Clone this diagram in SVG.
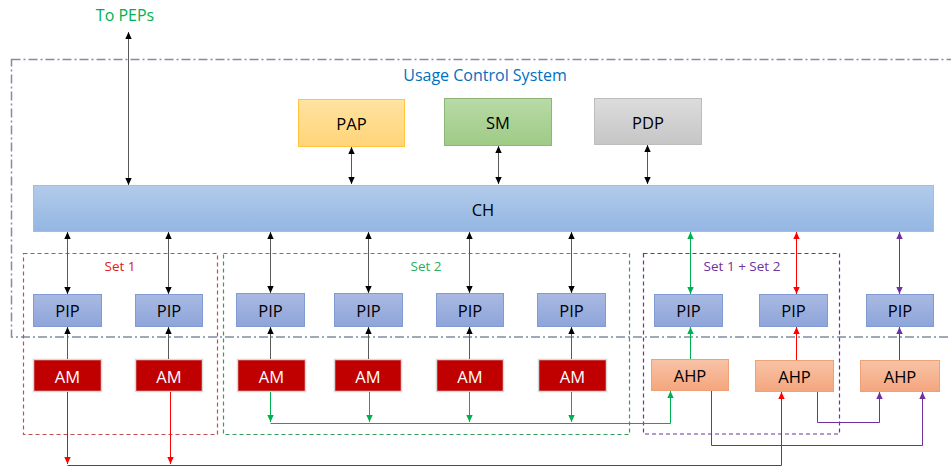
<svg xmlns="http://www.w3.org/2000/svg" width="951" height="468" viewBox="0 0 951 468">
<style>
text{font-family:"Open Sans","Liberation Sans",sans-serif;text-anchor:middle;dominant-baseline:central}
.lbl{font-size:16.5px;fill:#000}
.set{font-size:13.5px}
.pip{fill:url(#gPip);stroke:#7F9BD1;stroke-width:1}
.am{fill:#C00000;stroke:#D9D9D9;stroke-width:1.5}
.ahp{fill:url(#gAhp);stroke:#F0A077;stroke-width:1}
.k{stroke:#595959;stroke-width:1;fill:none}
.r{stroke:#FF0000;stroke-width:1;fill:none}
.g{stroke:#00B050;stroke-width:1;fill:none}
.p{stroke:#7030A0;stroke-width:1;fill:none}
</style>
<defs>
<linearGradient id="gPip" x1="0" y1="0" x2="0" y2="1"><stop offset="0" stop-color="#A9B9E2"/><stop offset="1" stop-color="#8EA5DA"/></linearGradient>
<linearGradient id="gCh" x1="0" y1="0" x2="0" y2="1"><stop offset="0" stop-color="#B2CBEB"/><stop offset="1" stop-color="#93B6E2"/></linearGradient>
<linearGradient id="gPap" x1="0" y1="0" x2="0" y2="1"><stop offset="0" stop-color="#FFE3A0"/><stop offset="1" stop-color="#FFD479"/></linearGradient>
<linearGradient id="gSm" x1="0" y1="0" x2="0" y2="1"><stop offset="0" stop-color="#B8DAA7"/><stop offset="1" stop-color="#9ECB85"/></linearGradient>
<linearGradient id="gPdp" x1="0" y1="0" x2="0" y2="1"><stop offset="0" stop-color="#DCDCDC"/><stop offset="1" stop-color="#C6C6C6"/></linearGradient>
<linearGradient id="gAhp" x1="0" y1="0" x2="0" y2="1"><stop offset="0" stop-color="#F8C3A6"/><stop offset="1" stop-color="#F4A67E"/></linearGradient>
<marker id="ak" markerWidth="8" markerHeight="8" refX="7" refY="4" orient="auto-start-reverse" markerUnits="userSpaceOnUse"><path d="M0,0.8 L7,4 L0,7.2 Z" fill="#000"/></marker>
<marker id="ar" markerWidth="8" markerHeight="8" refX="7" refY="4" orient="auto-start-reverse" markerUnits="userSpaceOnUse"><path d="M0,0.8 L7,4 L0,7.2 Z" fill="#FF0000"/></marker>
<marker id="ag" markerWidth="8" markerHeight="8" refX="7" refY="4" orient="auto-start-reverse" markerUnits="userSpaceOnUse"><path d="M0,0.8 L7,4 L0,7.2 Z" fill="#00B050"/></marker>
<marker id="ap" markerWidth="8" markerHeight="8" refX="7" refY="4" orient="auto-start-reverse" markerUnits="userSpaceOnUse"><path d="M0,0.8 L7,4 L0,7.2 Z" fill="#7030A0"/></marker>
</defs>
<rect width="951" height="468" fill="#fff"/>

<g id="system">
<rect x="11.5" y="59.5" width="950" height="277.5" fill="none" stroke="#7F8FA3" stroke-width="1.5" stroke-dasharray="9,3,2,3"/>
<text x="485" y="75" style="font-size:16px;fill:#0070C0">Usage Control System</text>
</g>
<text x="125" y="15" style="font-size:16px;fill:#00B050">To PEPs</text>

<g id="set1"><rect x="23.5" y="253.5" width="194" height="181" fill="none" stroke="#C0504D" stroke-width="1.2" stroke-dasharray="4,3"/><text class="set" x="120" y="266" style="fill:#E02020">Set 1</text></g>
<g id="set2"><rect x="223.5" y="253.5" width="406" height="181" fill="none" stroke="#3A9A5B" stroke-width="1.2" stroke-dasharray="4,3"/><text class="set" x="426" y="266" style="fill:#27AE60">Set 2</text></g>
<g id="set12"><rect x="643.5" y="253.5" width="196" height="180.5" fill="none" stroke="#7030A0" stroke-width="1.2" stroke-dasharray="4,3"/><text class="set" x="742" y="266" style="fill:#7030A0">Set 1 + Set 2</text></g>

<g id="PAP"><rect x="298.5" y="99.5" width="106" height="47" fill="url(#gPap)" stroke="#FFC440"/><text class="lbl" x="351.5" y="123">PAP</text></g>
<g id="SM"><rect x="444.5" y="98.5" width="107" height="47" fill="url(#gSm)" stroke="#8DB776"/><text class="lbl" x="498" y="122">SM</text></g>
<g id="PDP"><rect x="594.5" y="98.5" width="107" height="46" fill="url(#gPdp)" stroke="#BDBDBD"/><text class="lbl" x="648" y="122">PDP</text></g>
<g id="CH"><rect x="33.5" y="185.5" width="900" height="46" fill="url(#gCh)" stroke="#A3BDDF"/><text class="lbl" x="483" y="209">CH</text></g>

<g id="PIP1"><rect class="pip" x="33.5" y="294.5" width="68" height="32"/><text class="lbl" x="67.5" y="310">PIP</text></g>
<g id="PIP2"><rect class="pip" x="135.5" y="294.5" width="67" height="32"/><text class="lbl" x="169" y="310">PIP</text></g>
<g id="PIP3"><rect class="pip" x="236.5" y="293.5" width="68" height="33"/><text class="lbl" x="270.5" y="310">PIP</text></g>
<g id="PIP4"><rect class="pip" x="334.5" y="293.5" width="68" height="33"/><text class="lbl" x="368.5" y="310">PIP</text></g>
<g id="PIP5"><rect class="pip" x="436.5" y="293.5" width="67" height="33"/><text class="lbl" x="470" y="310">PIP</text></g>
<g id="PIP6"><rect class="pip" x="537.5" y="293.5" width="68" height="33"/><text class="lbl" x="571.5" y="310">PIP</text></g>
<g id="PIP7"><rect class="pip" x="654.5" y="294.5" width="68" height="32"/><text class="lbl" x="688.5" y="310">PIP</text></g>
<g id="PIP8"><rect class="pip" x="759.5" y="294.5" width="68" height="32"/><text class="lbl" x="793.5" y="310">PIP</text></g>
<g id="PIP9"><rect class="pip" x="866.5" y="294.5" width="67" height="32"/><text class="lbl" x="900" y="310">PIP</text></g>

<g id="AM1"><rect class="am" x="33.5" y="359.5" width="68" height="32"/><text class="lbl" x="67.5" y="376" style="fill:#fff">AM</text></g>
<g id="AM2"><rect class="am" x="135.5" y="359.5" width="67" height="32"/><text class="lbl" x="169" y="376" style="fill:#fff">AM</text></g>
<g id="AM3"><rect class="am" x="237.5" y="359.5" width="68" height="32"/><text class="lbl" x="271.5" y="376" style="fill:#fff">AM</text></g>
<g id="AM4"><rect class="am" x="334.5" y="359.5" width="67" height="32"/><text class="lbl" x="368" y="376" style="fill:#fff">AM</text></g>
<g id="AM5"><rect class="am" x="436.5" y="359.5" width="67" height="32"/><text class="lbl" x="470" y="376" style="fill:#fff">AM</text></g>
<g id="AM6"><rect class="am" x="538.5" y="359.5" width="68" height="32"/><text class="lbl" x="572.5" y="376" style="fill:#fff">AM</text></g>

<g id="AHP1"><rect class="ahp" x="651.5" y="359.5" width="77" height="31"/><text class="lbl" x="690" y="375">AHP</text></g>
<g id="AHP2"><rect class="ahp" x="755.5" y="360.5" width="78" height="31"/><text class="lbl" x="794.5" y="376">AHP</text></g>
<g id="AHP3"><rect class="ahp" x="860.5" y="360.5" width="79" height="31"/><text class="lbl" x="900" y="376">AHP</text></g>

<g id="connectors">
<path class="k" d="M128.5,185 V32" marker-start="url(#ak)" marker-end="url(#ak)"/>
<path class="k" d="M351.5,147 V184" marker-start="url(#ak)" marker-end="url(#ak)"/>
<path class="k" d="M498.5,146 V184" marker-start="url(#ak)" marker-end="url(#ak)"/>
<path class="k" d="M647.5,145 V184" marker-start="url(#ak)" marker-end="url(#ak)"/>
<path class="k" d="M67.5,232 V294" marker-start="url(#ak)" marker-end="url(#ak)"/>
<path class="k" d="M168.5,232 V294" marker-start="url(#ak)" marker-end="url(#ak)"/>
<path class="k" d="M270.5,232 V293" marker-start="url(#ak)" marker-end="url(#ak)"/>
<path class="k" d="M368.5,232 V293" marker-start="url(#ak)" marker-end="url(#ak)"/>
<path class="k" d="M469.5,232 V293" marker-start="url(#ak)" marker-end="url(#ak)"/>
<path class="k" d="M571.5,232 V293" marker-start="url(#ak)" marker-end="url(#ak)"/>
<path class="g" d="M690.5,232 V294" marker-start="url(#ag)" marker-end="url(#ag)"/>
<path class="r" d="M796.5,232 V294" marker-start="url(#ar)" marker-end="url(#ar)"/>
<path class="p" d="M899.5,232 V294" marker-start="url(#ap)" marker-end="url(#ap)"/>

<path class="k" d="M67.5,359 V327" marker-end="url(#ak)"/>
<path class="k" d="M168.5,359 V327" marker-end="url(#ak)"/>
<path class="k" d="M270.5,359 V327" marker-end="url(#ak)"/>
<path class="k" d="M368.5,359 V327" marker-end="url(#ak)"/>
<path class="k" d="M469.5,359 V327" marker-end="url(#ak)"/>
<path class="k" d="M571.5,359 V327" marker-end="url(#ak)"/>
<path class="g" d="M690.5,359 V327" marker-end="url(#ag)"/>
<path class="r" d="M796.5,360 V327" marker-end="url(#ar)"/>
<path class="p" d="M899.5,360 V327" marker-end="url(#ap)"/>

<path class="r" d="M67.5,392 V464" marker-end="url(#ar)"/>
<path class="r" d="M170.5,392 V464" marker-end="url(#ar)"/>
<path class="r" d="M67.5,465.5 H781.5 V392" marker-end="url(#ar)"/>

<path class="g" d="M270.5,392 V422" marker-end="url(#ag)"/>
<path class="g" d="M369.5,392 V422" marker-end="url(#ag)"/>
<path class="g" d="M469.5,392 V422" marker-end="url(#ag)"/>
<path class="g" d="M571.5,392 V422" marker-end="url(#ag)"/>
<path class="g" d="M270.5,423.5 H670.5 V391" marker-end="url(#ag)"/>

<path class="p" d="M711.5,391 V445.5 H922.5 V392" marker-end="url(#ap)"/>
<path class="p" d="M817.5,392 V422.5 H879.5 V392" marker-end="url(#ap)"/>
</g>
</svg>
